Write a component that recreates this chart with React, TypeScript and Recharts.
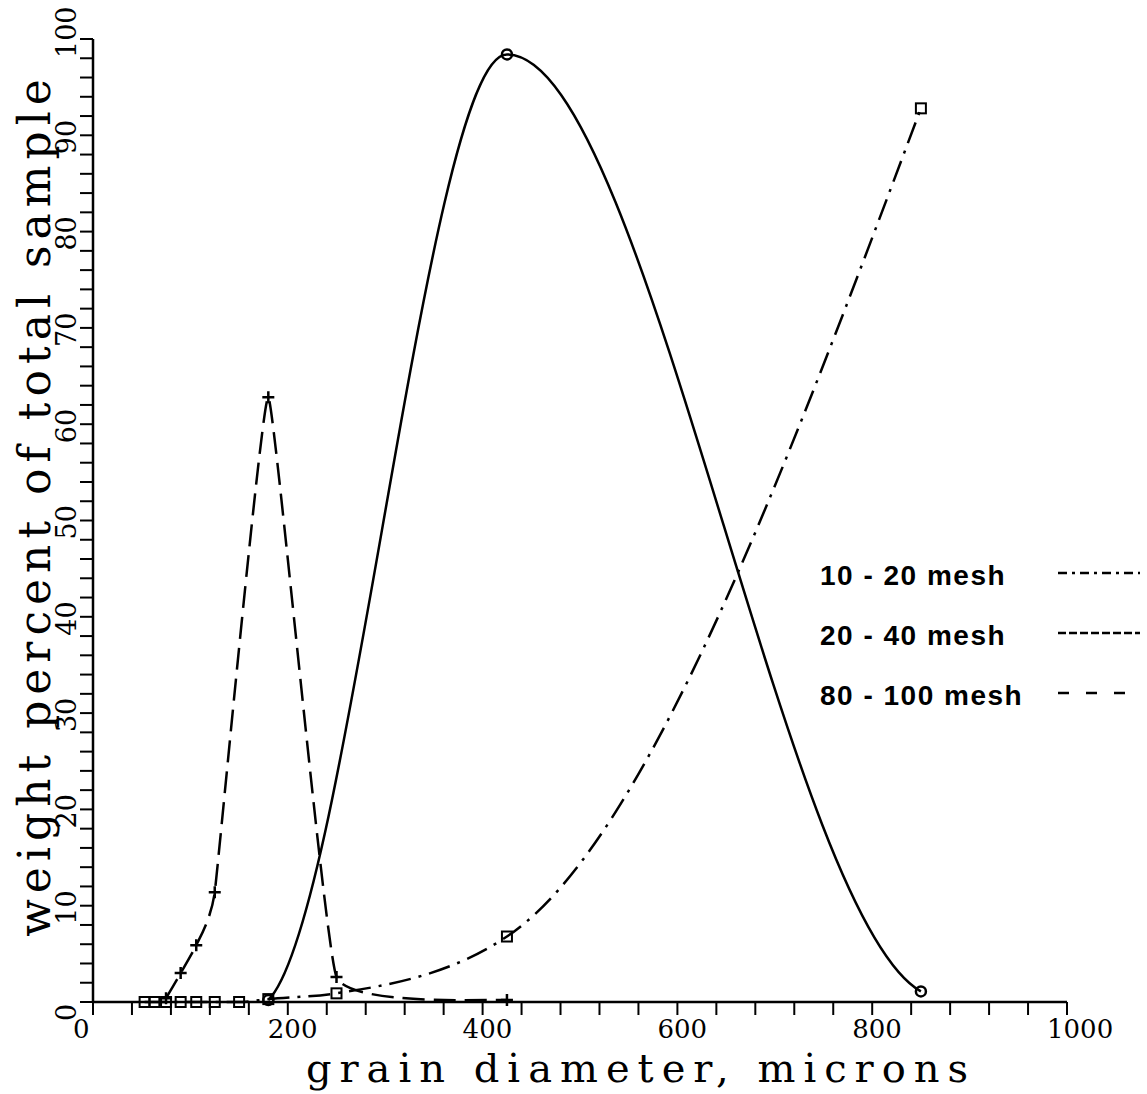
import React from 'react';
import { LineChart, Line, XAxis, YAxis, Customized } from 'recharts';

// sieve openings (microns) and weight percent
const sizes1020 = [53, 63, 75, 90, 106, 125, 150, 180, 250, 425, 850];
const weight1020 = [0, 0, 0, 0, 0, 0, 0, 0.3, 0.9, 6.8, 92.8];

const sizes2040 = [180, 425, 850];
const weight2040 = [0.2, 98.4, 1.1];

const sizes80100 = [75, 90, 106, 125, 180, 250, 425];
const weight80100 = [0.4, 3.0, 5.9, 11.4, 62.8, 2.6, 0.2];

const xTicks = Array.from({ length: 26 }, (_, i) => i * 40);
const xLabels = [0, 200, 400, 600, 800, 1000];
const yTicks = Array.from({ length: 51 }, (_, i) => i * 2);
const yLabels = [0, 10, 20, 30, 40, 50, 60, 70, 80, 90, 100];

const legendLabels = ['10 - 20 mesh', '20 - 40 mesh', '80 - 100 mesh'];
const legendDashes = ['9 5 3 5', '8 3', '11 17'];

const toRows = (xs: number[], ys: number[]) => xs.map((d, i) => ({ d, w: ys[i] }));

const data1020 = toRows(sizes1020, weight1020);
const data2040 = toRows(sizes2040, weight2040);
const data80100 = toRows(sizes80100, weight80100);

const SERIF = '"DejaVu Serif", serif';
const SANS = '"Liberation Sans", Arial, sans-serif';

// collects the projected points, then draws them in one go
const bufferedCurve = (draw: (ctx: any, px: number[], py: number[]) => void) => (ctx: any) => {
  let px: number[] = [];
  let py: number[] = [];
  return {
    areaStart() {},
    areaEnd() {},
    lineStart() {
      px = [];
      py = [];
    },
    point(x: number, y: number) {
      px.push(+x);
      py.push(+y);
    },
    lineEnd() {
      if (!px.length) return;
      ctx.moveTo(px[0], py[0]);
      if (px.length > 1) draw(ctx, px, py);
    },
  };
};

// tight cardinal spline, almost straight between the points
const cardinalCurve = (tension: number) =>
  bufferedCurve((ctx, px, py) => {
    const k = (1 - tension) / 6;
    const n = px.length;
    for (let i = 0; i < n - 1; i++) {
      const a = Math.max(i - 1, 0);
      const d = Math.min(i + 2, n - 1);
      ctx.bezierCurveTo(
        px[i] + k * (px[i + 1] - px[a]),
        py[i] + k * (py[i + 1] - py[a]),
        px[i + 1] - k * (px[d] - px[i]),
        py[i + 1] - k * (py[d] - py[i]),
        px[i + 1],
        py[i + 1]
      );
    }
  });

// hermite in x: flat at the peak, shallow where it meets the end points
const bellCurve = (endFactor: number) =>
  bufferedCurve((ctx, px, py) => {
    const n = px.length;
    const s = px.slice(0, -1).map((x, i) => (py[i + 1] - py[i]) / (px[i + 1] - x));
    const m = px.map((_, i) => {
      if (i === 0) return s[0] * endFactor;
      if (i === n - 1) return s[n - 2] * endFactor;
      if (s[i - 1] * s[i] <= 0) return 0;
      return 2 / (1 / s[i - 1] + 1 / s[i]);
    });
    for (let i = 0; i < n - 1; i++) {
      const h = (px[i + 1] - px[i]) / 3;
      ctx.bezierCurveTo(px[i] + h, py[i] + m[i] * h, px[i + 1] - h, py[i + 1] - m[i + 1] * h, px[i + 1], py[i + 1]);
    }
  });

const squareDot = (p: any) => (
  <rect
    key={`sq-${p.index}`}
    x={p.cx - 5}
    y={p.cy - 5}
    width={10}
    height={10}
    fill="none"
    stroke="#000"
    strokeWidth={2}
  />
);

const circleDot = (p: any) => (
  <circle key={`ci-${p.index}`} cx={p.cx} cy={p.cy} r={5} fill="none" stroke="#000" strokeWidth={2.5} />
);

const plusDot = (p: any) => (
  <path
    key={`pl-${p.index}`}
    d={`M${p.cx - 6},${p.cy}H${p.cx + 6}M${p.cx},${p.cy - 6}V${p.cy + 6}`}
    stroke="#000"
    strokeWidth={2.5}
    fill="none"
  />
);

const XTick = (p: any) => {
  const v = p.payload.value;
  if (!xLabels.includes(v)) return <g />;
  return (
    <text x={p.x - 20} y={p.y + 23} textAnchor="start" fontFamily={SERIF} fontSize={26} fill="#000">
      {v}
    </text>
  );
};

const YTick = (p: any) => {
  const v = p.payload.value;
  if (!yLabels.includes(v)) return <g />;
  const bx = p.x - 4;
  const by = p.y + 19;
  return (
    <text
      x={bx}
      y={by}
      transform={`rotate(-90 ${bx} ${by})`}
      textAnchor="start"
      fontFamily={SERIF}
      fontSize={27}
      fill="#000"
    >
      {v}
    </text>
  );
};

const Decorations = () => (
  <g>
    <text x={641} y={1082} textAnchor="middle" fontFamily={SERIF} fontSize={40} letterSpacing={8} fill="#000">
      grain diameter, microns
    </text>
    <text
      x={50}
      y={505}
      transform="rotate(-90 50 505)"
      textAnchor="middle"
      fontFamily={SERIF}
      fontSize={44}
      letterSpacing={6}
      fill="#000"
    >
      weight percent of total sample
    </text>
    {legendLabels.map((label, i) => (
      <g key={label}>
        <text
          x={820}
          y={585 + i * 60}
          fontFamily={SANS}
          fontWeight="bold"
          fontSize={28}
          letterSpacing={1.5}
          fill="#000"
        >
          {label}
        </text>
        <line
          x1={1058}
          x2={1140}
          y1={573 + i * 60}
          y2={573 + i * 60}
          stroke="#000"
          strokeWidth={2.5}
          strokeDasharray={legendDashes[i]}
        />
      </g>
    ))}
  </g>
);

export default function App() {
  return (
    <div style={{ position: 'absolute', left: 0, top: 0, background: '#fff' }}>
      <LineChart width={1147} height={1094} margin={{ top: 39, right: 80, left: 0, bottom: 0 }}>
        <XAxis
          type="number"
          dataKey="d"
          domain={[0, 1000]}
          ticks={xTicks}
          interval={0}
          height={92}
          tickSize={13}
          tickMargin={0}
          axisLine={{ stroke: '#000', strokeWidth: 2.5 }}
          tickLine={{ stroke: '#000', strokeWidth: 2 }}
          tick={XTick}
        />
        <YAxis
          type="number"
          dataKey="w"
          domain={[0, 100]}
          ticks={yTicks}
          interval={0}
          width={93}
          tickSize={13}
          tickMargin={0}
          axisLine={{ stroke: '#000', strokeWidth: 2.5 }}
          tickLine={{ stroke: '#000', strokeWidth: 2 }}
          tick={YTick}
        />
        <Line
          data={data1020}
          dataKey="w"
          type="monotoneX"
          stroke="#000"
          strokeWidth={2.5}
          strokeDasharray="22 8 3 8"
          dot={squareDot}
          activeDot={false}
          isAnimationActive={false}
        />
        <Line
          data={data2040}
          dataKey="w"
          type={bellCurve(0.25) as any}
          stroke="#000"
          strokeWidth={2.5}
          dot={circleDot}
          activeDot={false}
          isAnimationActive={false}
        />
        <Line
          data={data80100}
          dataKey="w"
          type={cardinalCurve(0.7) as any}
          stroke="#000"
          strokeWidth={2.5}
          strokeDasharray="22 9"
          dot={plusDot}
          activeDot={false}
          isAnimationActive={false}
        />
        <Customized component={Decorations} />
      </LineChart>
    </div>
  );
}
